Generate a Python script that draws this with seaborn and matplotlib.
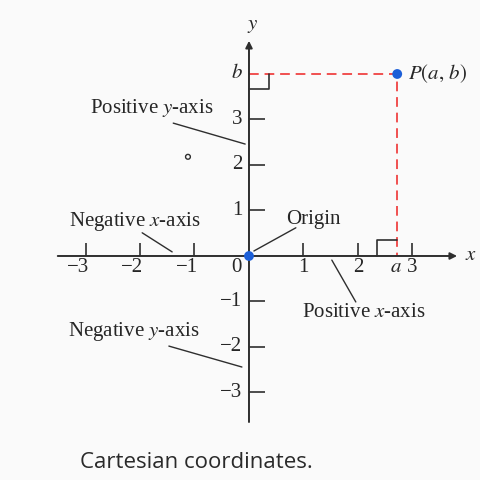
import numpy as np
import pandas as pd
import matplotlib.pyplot as plt
import seaborn as sns

# valores del dibujo
x_ticks = [-3, -2, -1, 1, 2, 3]
y_ticks = [-3, -2, -1, 1, 2, 3]
x_tick_labels = ["\u22123", "\u22122", "\u22121", "1", "2", "3"]
y_tick_labels = ["\u22123", "\u22122", "\u22121", "1", "2", "3"]
a_val = 2.72
b_val = 4.0
puntos = pd.DataFrame({"x": [0, a_val], "y": [0, b_val], "nombre": ["Origen", "P"]})
guia = pd.DataFrame({"x": [0, a_val, a_val], "y": [b_val, b_val, 0], "orden": [0, 1, 2]})

sns.set_theme(style="white")
plt.rcParams["font.family"] = ["Liberation Serif", "DejaVu Serif"]
plt.rcParams["mathtext.fontset"] = "stix"

eje = "#2e2e2e"
txt = "#262626"
fs = 15
fig = plt.figure(figsize=(4.8, 4.8), dpi=100, facecolor="#fafafa")
ax = fig.add_axes([0, 0, 1, 1])
ax.set_facecolor("#fafafa")
ax.set_xlim(-4.569, 4.239)
ax.set_ylim(-4.923, 5.626)
ax.axis("off")

# ejes con flecha
ax.annotate("", xy=(3.87, 0), xytext=(-3.56, 0),
            arrowprops=dict(arrowstyle="-|>", color=eje, lw=1.4, mutation_scale=10))
ax.annotate("", xy=(0, 4.79), xytext=(0, -3.71),
            arrowprops=dict(arrowstyle="-|>", color=eje, lw=1.4, mutation_scale=10))
ax.text(4.08, 0, "$x$", fontsize=fs, ha="center", va="center", color=txt)
ax.text(0.06, 5.07, "$y$", fontsize=fs, ha="center", va="center", color=txt)

# marcas
ax.vlines(x_ticks, 0, 0.28, color=eje, lw=1.2)
ax.hlines(y_ticks, 0, 0.29, color=eje, lw=1.2)
for xt, lab in zip(x_ticks, x_tick_labels):
    desplaz = -0.14 if xt < 0 else 0.0
    ax.text(xt + desplaz, -0.26, lab, fontsize=fs, ha="center", va="center", color=txt)
for yt, lab in zip(y_ticks, y_tick_labels):
    ax.text(-0.12, yt, lab, fontsize=fs, ha="right", va="center", color=txt)
ax.text(-0.23, -0.26, "0", fontsize=fs, ha="center", va="center", color=txt)
ax.text(2.70, -0.26, "$a$", fontsize=fs, ha="center", va="center", color=txt)
ax.text(-0.12, b_val, "$b$", fontsize=fs, ha="right", va="center", color=txt)

# lineas guia rojas
sns.lineplot(data=guia, x="x", y="y", sort=False, estimator=None, ax=ax,
             color="#f05050", lw=1.4, linestyle=(0, (5, 3)))

# angulos rectos
ax.plot([0, 0.37, 0.37], [b_val - 0.33, b_val - 0.33, b_val], color=eje, lw=1.2)
ax.plot([a_val - 0.37, a_val - 0.37, a_val], [0, 0.36, 0.36], color=eje, lw=1.2)

sns.scatterplot(data=puntos, x="x", y="y", ax=ax, color="#1c5fd8", s=50,
                edgecolor="none", zorder=5, legend=False)
ax.scatter([-1.12], [2.18], s=12, facecolor="none", edgecolor=eje, lw=1.0)
ax.text(2.92, b_val, "$P(a,\\, b)$", fontsize=fs, ha="left", va="center", color=txt)

# etiquetas con linea
notas = [
    ("Positive $y$-axis", (-1.79, 3.25), (-1.39, 2.92), (-0.07, 2.46)),
    ("Negative $x$-axis", (-2.10, 0.75), (-1.96, 0.51), (-1.41, 0.09)),
    ("Origin", (1.19, 0.81), (0.86, 0.62), (0.09, 0.11)),
    ("Positive $x$-axis", (2.11, -1.25), (1.52, -0.09), (1.96, -1.01)),
    ("Negative $y$-axis", (-2.11, -1.65), (-1.47, -1.98), (-0.13, -2.44)),
]
for texto, pos, p1, p2 in notas:
    ax.text(pos[0], pos[1], texto, fontsize=fs, ha="center", va="center", color=txt)
    ax.plot([p1[0], p2[0]], [p1[1], p2[1]], color=eje, lw=1.0)

fig.text(80 / 480, 1 - 462 / 480, "Cartesian coordinates.", fontsize=16,
         family=["Open Sans", "DejaVu Sans"], ha="left", va="center", color="#2a2a2a")

fig.savefig("out.png", dpi=100, facecolor=fig.get_facecolor())
